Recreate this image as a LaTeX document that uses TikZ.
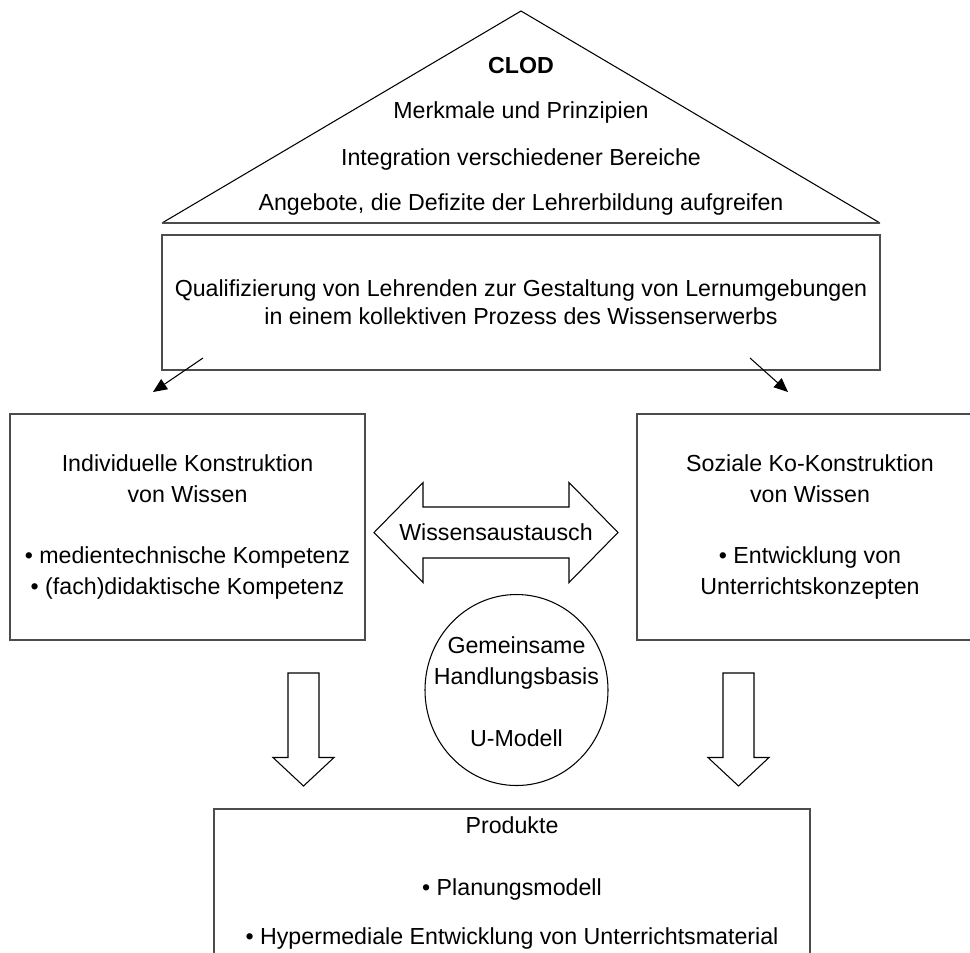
\documentclass[tikz,border=0pt]{standalone}
\usepackage{fontspec}
\setmainfont{Liberation Sans}
\usepackage{tikz}
\usetikzlibrary{arrows.meta,positioning,shapes.geometric}

\begin{document}
\begin{tikzpicture}[
        every node/.style={font=\fontsize{13.2}{17.6}\selectfont},
        box/.style={rectangle, draw=black!70, line width=1pt, align=center, inner sep=0pt},
        txt/.style={align=center, inner sep=0pt},
        thinline/.style={draw=black, line width=0.6pt},
        blockarrow/.style={draw=black, line width=0.6pt, fill=white},
        arrow/.style={-{Triangle[length=0.28cm, width=0.24cm]}, line width=0.6pt}
    ]
    \useasboundingbox (0,0) rectangle (19.4,-19.04);

    % Dach
    \coordinate (roofL) at (3.24,-4.46);
    \coordinate (roofT) at (10.42,-0.22);
    \coordinate (roofR) at (17.6,-4.46);
    \draw[thinline] (roofL) -- (roofT) -- (roofR);
    \draw[draw=black!70, line width=1pt] (roofL) -- (roofR);

    \node[txt] (clod) at (10.42,-1.32) {\textbf{CLOD}};
    \node[txt] (merkmale) at (10.42,-2.24) {Merkmale und Prinzipien};
    \node[txt] (integration) at (10.42,-3.18) {Integration verschiedener Bereiche};
    \node[txt] (angebote) at (10.42,-4.08) {Angebote, die Defizite der Lehrerbildung aufgreifen};

    \node[box, minimum width=14.36cm, minimum height=2.7cm] (ziel) at (10.42,-6.05)
      {Qualifizierung von Lehrenden zur Gestaltung von Lernumgebungen\\[-0.06cm]in einem kollektiven Prozess des Wissenserwerbs};

    \node[box, minimum width=7.1cm, minimum height=4.52cm] (indiv) at (3.75,-10.54)
      {Individuelle Konstruktion\\von Wissen\\[0.62cm]• medientechnische Kompetenz\\• (fach)didaktische Kompetenz};

    \node[box, minimum width=6.92cm, minimum height=4.52cm] (sozial) at (16.2,-10.54)
      {Soziale Ko-Konstruktion\\von Wissen\\[0.62cm]• Entwicklung von\\Unterrichtskonzepten};

    \coordinate (zielL) at (4.06,-7.16);
    \coordinate (zielR) at (15.0,-7.16);
    \coordinate (indivT) at (3.06,-7.84);
    \coordinate (sozialT) at (15.76,-7.84);
    \draw[arrow] (zielL) -- (indivT);
    \draw[arrow] (zielR) -- (sozialT);

    % Wissensaustausch
    \draw[blockarrow] (7.48,-10.65) -- (8.46,-9.65) -- (8.46,-10.14) -- (11.38,-10.14)
      -- (11.38,-9.65) -- (12.36,-10.65) -- (11.38,-11.65) -- (11.38,-11.16)
      -- (8.46,-11.16) -- (8.46,-11.65) -- cycle;
    \node[txt] (tausch) at (9.92,-10.64) {Wissensaustausch};

    \node[ellipse, thinline, minimum width=3.66cm, minimum height=3.82cm, inner sep=0pt] (basis) at (10.33,-13.8) {};
    \node[txt] (basistext) at (10.33,-13.83) {Gemeinsame\\Handlungsbasis\\[0.62cm]U-Modell};

    \foreach \cx in {6.07,14.77}
      \draw[blockarrow] ({\cx-0.31},-13.46) -- ({\cx+0.31},-13.46) -- ({\cx+0.31},-15.15)
        -- ({\cx+0.61},-15.15) -- (\cx,-15.72) -- ({\cx-0.61},-15.15) -- ({\cx-0.31},-15.15) -- cycle;

    \node[box, minimum width=11.92cm, minimum height=3.84cm, anchor=north] (produkte) at (10.24,-16.16) {};
    \node[txt, below=0.16cm of produkte.north] (produktetext)
      {Produkte\\[0.62cm]• Planungsmodell\\[0.36cm]• Hypermediale Entwicklung von Unterrichtsmaterial};
\end{tikzpicture}
\end{document}
